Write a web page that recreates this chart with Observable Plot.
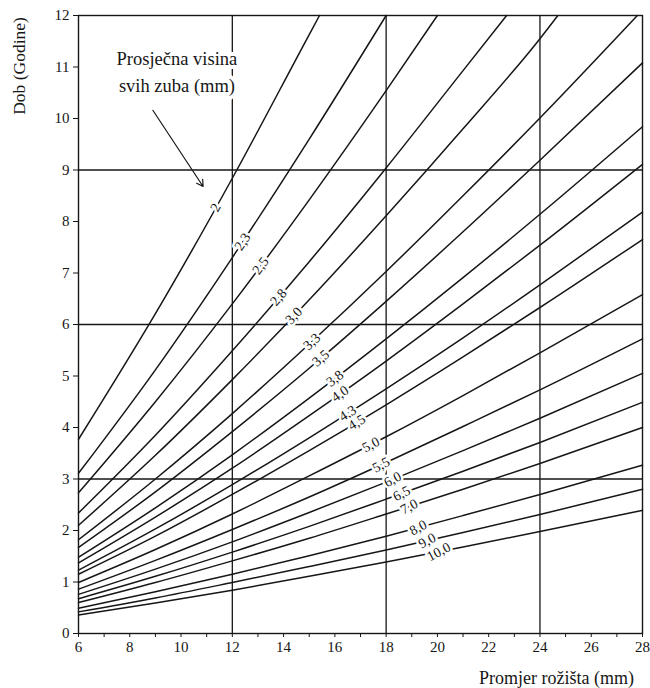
<!DOCTYPE html>
<html><head><meta charset="utf-8">
<script src="https://cdn.jsdelivr.net/npm/d3@7"></script>
<script src="https://cdn.jsdelivr.net/npm/@observablehq/plot@0.6"></script>
<style>body{margin:0;background:#fff} svg{display:block}</style>
</head><body><div id="chart"></div>
<script>
// Average height of all teeth (mm) – one curve each
const heightLabels = ["2","2,3","2,5","2,8","3,0","3,3","3,5","3,8","4,0","4,3","4,5","5,0","5,5","6,0","6,5","7,0","8,0","9,0","10,0"];
// Burr diameter (mm) at which ages are read
const diameters = [6, 9, 12, 15, 18, 21, 24, 28];
// Age (years) read at each diameter; rows end where the curve leaves the top
const ages = [
  [3.77, 6.21, 8.84, 11.63],
  [3.11, 5.12, 7.30, 9.60],
  [2.73, 4.50, 6.40, 8.42, 10.54],
  [2.34, 3.85, 5.49, 7.22, 9.04, 10.93],
  [2.10, 3.46, 4.93, 6.48, 8.11, 9.80, 11.55],
  [1.82, 3.00, 4.27, 5.62, 7.03, 8.50, 10.01],
  [1.67, 2.75, 3.92, 5.15, 6.45, 7.80, 9.19, 11.08],
  [1.48, 2.44, 3.47, 4.57, 5.72, 6.91, 8.14, 9.84],
  [1.37, 2.26, 3.21, 4.23, 5.29, 6.40, 7.54, 9.11],
  [1.23, 2.03, 2.89, 3.80, 4.75, 5.74, 6.77, 8.18],
  [1.15, 1.89, 2.70, 3.55, 4.44, 5.37, 6.33, 7.65],
  [0.99, 1.63, 2.32, 3.06, 3.82, 4.62, 5.45, 6.58],
  [0.86, 1.42, 2.02, 2.65, 3.32, 4.02, 4.73, 5.72],
  [0.76, 1.25, 1.78, 2.35, 2.94, 3.55, 4.18, 5.05],
  [0.675, 1.11, 1.58, 2.08, 2.61, 3.15, 3.71, 4.49],
  [0.60, 0.99, 1.41, 1.85, 2.32, 2.80, 3.30, 4.00],
  [0.49, 0.81, 1.15, 1.51, 1.89, 2.29, 2.70, 3.27],
  [0.42, 0.69, 0.99, 1.30, 1.62, 1.96, 2.31, 2.80],
  [0.36, 0.59, 0.84, 1.11, 1.39, 1.68, 1.98, 2.39]
];
// Diameter where a curve reaches age 12 (top edge)
const topExitDiameter = [15.4, 18.0, 20.0, 22.7, 24.7, 27.8, null, null, null, null, null, null, null, null, null, null, null, null, null];
const topAge = 12;
// Diameter at which each curve carries its label
const labelDiameter = [11.35, 12.4, 13.1, 13.8, 14.4, 15.1, 15.45, 16.0, 16.2, 16.5, 16.85, 17.4, 17.8, 18.25, 18.6, 18.9, 19.25, 19.6, 20.05];

const xTicks = [6,7,8,9,10,11,12,13,14,15,16,17,18,19,20,21,22,23,24,25,26,27,28];
const yTicks = [0,1,2,3,4,5,6,7,8,9,10,11,12];
const gridX = [12, 18, 24];
const gridY = [3, 6, 9];
const noteText = "Prosječna visina\nsvih zuba (mm)";
const notePos = {x: 9.84, y: 10.95};
const arrowData = [{x1: 8.9, y1: 10.16, x2: 10.86, y2: 8.68}];

// layout
const W = 650, H = 688, mL = 78, mR = 8, mT = 15, mB = 55;
const kx = (W - mL - mR) / 22, ky = (H - mT - mB) / 12;
const font = "Liberation Serif, Times New Roman, serif";
const ink = "#161616";
const minLabelTilt = 28;

// build curves
const curves = ages.map((row, i) => {
  const pts = row.map((a, j) => ({h: heightLabels[i], x: diameters[j], y: a}));
  if (topExitDiameter[i] != null) pts.push({h: heightLabels[i], x: topExitDiameter[i], y: topAge});
  return pts;
});
const rows = curves.flat();

const labels = curves.map((pts, i) => {
  const xd = labelDiameter[i];
  let k = 0;
  while (k < pts.length - 2 && pts[k + 1].x < xd) k++;
  const a = pts[k], b = pts[k + 1];
  const t = (xd - a.x) / (b.x - a.x);
  const y = a.y + t * (b.y - a.y);
  const s = (b.y - a.y) / (b.x - a.x) * ky / kx;
  const ang = Math.atan(s) * 180 / Math.PI;
  return {x: xd, y, text: heightLabels[i], rotate: -Math.max(ang, minLabelTilt)};
});

const chart = Plot.plot({
  width: W, height: H,
  marginLeft: mL, marginRight: mR, marginTop: mT, marginBottom: mB,
  x: {domain: [6, 28]},
  y: {domain: [0, 12]},
  style: {fontFamily: font, fontSize: "15px", color: ink, background: "#fff"},
  marks: [
    Plot.ruleY(gridY, {stroke: ink, strokeWidth: 1.3}),
    Plot.ruleX(gridX, {stroke: ink, strokeWidth: 1.3}),
    Plot.frame({stroke: ink, strokeWidth: 1.4}),
    Plot.line(rows, {x: "x", y: "y", z: "h", curve: "monotone-x", stroke: ink, strokeWidth: 1.5}),
    Plot.text(labels, {x: "x", y: "y", text: "text", rotate: "rotate", fill: ink, stroke: "white", strokeWidth: 5, paintOrder: "stroke", fontSize: 14, fontFamily: font}),
    Plot.text([noteText], {x: notePos.x, y: notePos.y, fill: ink, stroke: "white", strokeWidth: 8, paintOrder: "stroke", fontSize: 18.5, lineHeight: 1.45, fontFamily: font}),
    Plot.arrow(arrowData, {x1: "x1", y1: "y1", x2: "x2", y2: "y2", stroke: ink, strokeWidth: 1.2, headLength: 9}),
    Plot.axisX({ticks: xTicks, tickFormat: d => d % 2 === 0 ? d : "", tickSize: 4, tickPadding: 4, label: null, fontSize: 15, stroke: ink}),
    Plot.axisY({ticks: yTicks, tickSize: 5, tickPadding: 4, label: null, fontSize: 15, stroke: ink})
  ]
});

const svg = d3.select(chart);
svg.append("text").attr("transform", "translate(21,66) rotate(-90)")
  .attr("text-anchor", "middle").attr("dominant-baseline", "middle")
  .attr("font-family", font).attr("font-size", 17.5).attr("fill", ink).text("Dob (Godine)");
svg.append("text").attr("x", 634).attr("y", 684)
  .attr("text-anchor", "end")
  .attr("font-family", font).attr("font-size", 18).attr("fill", ink).text("Promjer rožišta (mm)");

document.getElementById("chart").appendChild(chart);
</script>
</body></html>
